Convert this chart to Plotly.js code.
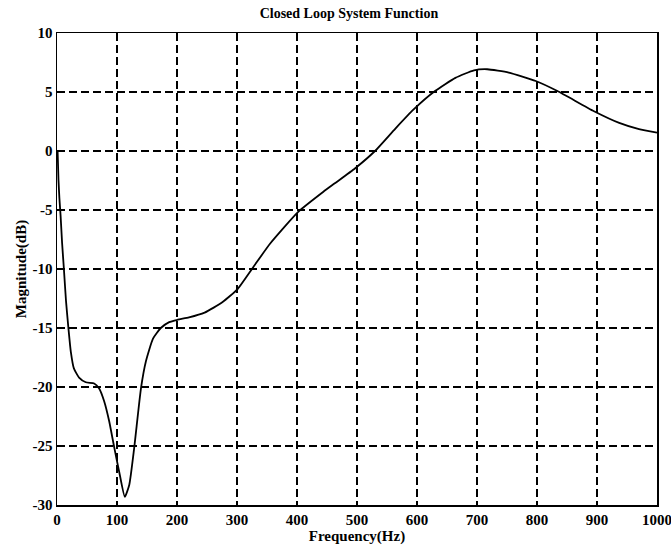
<!DOCTYPE html>
<html>
<head>
<meta charset="utf-8">
<script src="https://cdn.plot.ly/plotly-3.0.1.min.js"></script>
<style>html,body{margin:0;padding:0;background:#fff;}#chart{width:671px;height:546px;}</style>
</head>
<body>
<div id="chart"></div>
<script>
const freqHz = [1, 2.5, 4, 6, 8.5, 11.5, 15, 19, 23, 28, 36.8, 48, 62, 70, 78.6, 87, 95.3, 103.7, 113, 120.4, 128.8, 140, 148.3, 160, 173, 187, 201, 220, 246, 276, 301, 327, 355, 402, 444, 463, 497, 530, 564, 594, 630, 664, 695, 717, 753, 798, 834, 895, 937, 970, 1000];
const magDb = [0, -2.5, -4, -5.5, -7.8, -10, -12.7, -15, -17, -18.4, -19.2, -19.6, -19.7, -20.1, -21.2, -22.9, -25.1, -27.2, -29.3, -28.3, -25.1, -20.1, -17.8, -15.9, -15.0, -14.5, -14.3, -14.1, -13.7, -12.8, -11.7, -9.85, -7.86, -5.16, -3.45, -2.74, -1.46, 0, 1.9, 3.5, 5.08, 6.2, 6.84, 6.93, 6.65, 5.93, 5.08, 3.37, 2.38, 1.85, 1.55];
const xTicks = [0, 100, 200, 300, 400, 500, 600, 700, 800, 900, 1000];
const yTicks = [-30, -25, -20, -15, -10, -5, 0, 5, 10];
const titleText = 'Closed Loop System Function';
const xTitle = 'Frequency(Hz)';
const yTitle = 'Magnitude(dB)';

const serif = 'Liberation Serif, Times New Roman, serif';
const trace = {
  x: freqHz, y: magDb, type: 'scatter', mode: 'lines',
  line: {color: '#000', width: 1.8, shape: 'spline', smoothing: 0.5},
  hoverinfo: 'none'
};
const axisCommon = {
  showline: true, linecolor: '#000', linewidth: 1.5, mirror: true,
  showgrid: true, gridcolor: '#000', griddash: '8px,4px', gridwidth: 1.2,
  zeroline: false, ticks: '', tickmode: 'array', ticklabeloverflow: 'allow',
  tickfont: {family: serif, size: 15, color: '#000', weight: 'bold'}
};
const layout = {
  width: 671, height: 546,
  margin: {l: 57, r: 14, t: 33, b: 41},
  paper_bgcolor: '#fff', plot_bgcolor: '#fff',
  showlegend: false,
  title: {text: titleText, x: 0.52, xanchor: 'center', y: 0.985, yanchor: 'top',
          font: {family: serif, size: 14, color: '#000', weight: 'bold'}},
  xaxis: Object.assign({}, axisCommon, {
    range: [0, 1000], tickvals: xTicks, ticktext: xTicks.map(String),
    title: {text: xTitle, standoff: 0, font: {family: serif, size: 15, color: '#000', weight: 'bold'}}
  }),
  yaxis: Object.assign({}, axisCommon, {
    range: [-30, 10], tickvals: yTicks, ticktext: yTicks.map(String),
    title: {text: yTitle, standoff: 2, font: {family: serif, size: 15, color: '#000', weight: 'bold'}}
  })
};
Plotly.newPlot('chart', [trace], layout, {staticPlot: true, displayModeBar: false});
</script>
</body>
</html>
